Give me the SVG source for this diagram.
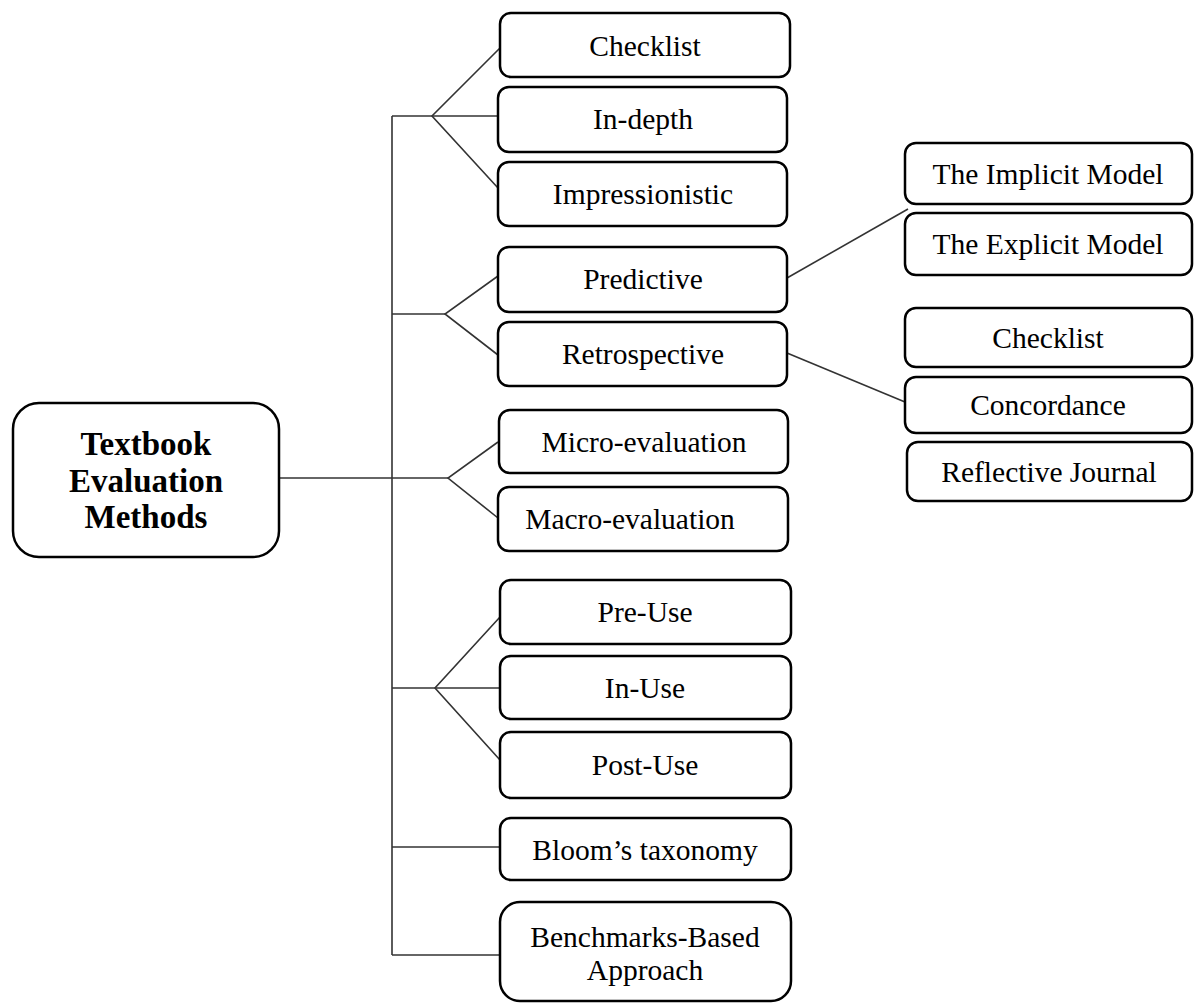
<svg xmlns="http://www.w3.org/2000/svg" width="1194" height="1003" viewBox="0 0 1194 1003">
<style>
.box{fill:#fff;stroke:#000;stroke-width:2.5}
.t{font-family:"Liberation Serif","Times New Roman",serif;font-size:29.5px;fill:#000;text-anchor:middle}
.b{font-weight:bold;font-size:33px}
.c{stroke:#333;stroke-width:1.6;fill:none}
</style>
<rect width="1194" height="1003" fill="#fff"/>
<g id="connectors">
<line class="c" x1="392" y1="116" x2="392" y2="955"/>
<line class="c" x1="279" y1="478" x2="448" y2="478"/>
<polyline class="c" points="500,48 432,116 498,188"/>
<line class="c" x1="392" y1="116" x2="498" y2="116"/>
<polyline class="c" points="498,276 445,314 498,355"/>
<line class="c" x1="392" y1="314" x2="445" y2="314"/>
<polyline class="c" points="498,442 448,478 498,518"/>
<polyline class="c" points="500,617 435,688 500,760"/>
<line class="c" x1="392" y1="688" x2="500" y2="688"/>
<line class="c" x1="392" y1="847" x2="500" y2="847"/>
<line class="c" x1="392" y1="955" x2="500" y2="955"/>
<line class="c" x1="787" y1="278" x2="908" y2="209"/>
<line class="c" x1="787" y1="353" x2="905" y2="402"/>
</g>
<g id="root"><rect class="box" x="13" y="403" width="266" height="154" rx="26"/>
<text class="t b" x="146" y="455">Textbook</text><text class="t b" x="146" y="492">Evaluation</text><text class="t b" x="146" y="528">Methods</text></g>
<g id="checklist1"><rect class="box" x="500" y="13" width="290" height="64" rx="11"/><text class="t" x="645" y="56">Checklist</text></g>
<g id="indepth"><rect class="box" x="498" y="87" width="289" height="65" rx="11"/><text class="t" x="643" y="129">In-depth</text></g>
<g id="impressionistic"><rect class="box" x="498" y="162" width="289" height="64" rx="11"/><text class="t" x="643" y="204">Impressionistic</text></g>
<g id="predictive"><rect class="box" x="498" y="247" width="289" height="65" rx="11"/><text class="t" x="643" y="289">Predictive</text></g>
<g id="retrospective"><rect class="box" x="498" y="322" width="289" height="64" rx="11"/><text class="t" x="643" y="364">Retrospective</text></g>
<g id="micro"><rect class="box" x="499" y="410" width="289" height="63" rx="11"/><text class="t" x="644" y="452">Micro-evaluation</text></g>
<g id="macro"><rect class="box" x="498" y="487" width="290" height="64" rx="11"/><text class="t" x="630" y="529">Macro-evaluation</text></g>
<g id="preuse"><rect class="box" x="500" y="580" width="291" height="64" rx="11"/><text class="t" x="645" y="622">Pre-Use</text></g>
<g id="inuse"><rect class="box" x="500" y="656" width="291" height="63" rx="11"/><text class="t" x="645" y="698">In-Use</text></g>
<g id="postuse"><rect class="box" x="500" y="732" width="291" height="66" rx="11"/><text class="t" x="645" y="775">Post-Use</text></g>
<g id="bloom"><rect class="box" x="500" y="818" width="291" height="62" rx="11"/><text class="t" x="645" y="860">Bloom’s taxonomy</text></g>
<g id="benchmarks"><rect class="box" x="500" y="902" width="291" height="99" rx="20"/><text class="t" x="645" y="947">Benchmarks-Based</text><text class="t" x="645" y="980">Approach</text></g>
<g id="implicit"><rect class="box" x="905" y="143" width="287" height="61" rx="11"/><text class="t" x="1048" y="184">The Implicit Model</text></g>
<g id="explicit"><rect class="box" x="905" y="213" width="287" height="62" rx="11"/><text class="t" x="1048" y="254">The Explicit Model</text></g>
<g id="checklist2"><rect class="box" x="905" y="308" width="287" height="59" rx="11"/><text class="t" x="1048" y="348">Checklist</text></g>
<g id="concordance"><rect class="box" x="905" y="377" width="287" height="56" rx="11"/><text class="t" x="1048" y="415">Concordance</text></g>
<g id="reflective"><rect class="box" x="907" y="442" width="285" height="59" rx="11"/><text class="t" x="1049" y="482">Reflective Journal</text></g>
</svg>
